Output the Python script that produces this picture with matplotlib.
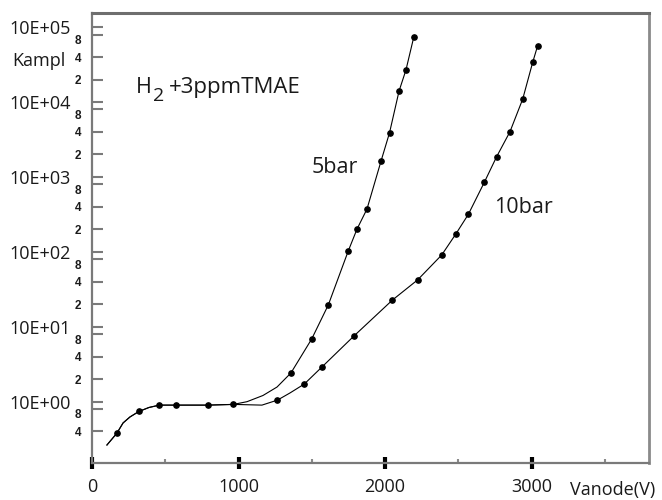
import matplotlib
matplotlib.use("Agg")
import matplotlib.pyplot as plt
from matplotlib.ticker import FixedLocator, FixedFormatter
from matplotlib.transforms import ScaledTranslation

# ---- data ----
x_common = [170, 320, 460, 575, 790, 965]
y_common = [0.38, 0.74, 0.90, 0.90, 0.90, 0.92]

x_5bar = [1358, 1500, 1613, 1750, 1809, 1877, 1973, 2031, 2096, 2143, 2196]
y_5bar = [2.42, 6.9, 19.6, 104, 202, 374, 1637, 3910, 14100, 26900, 73500]

x_10bar = [1266, 1449, 1573, 1788, 2051, 2222, 2387, 2483, 2569, 2678, 2762,
           2853, 2940, 3008, 3042]
y_10bar = [1.05, 1.72, 2.95, 7.54, 22.8, 42.2, 91, 173, 318, 851, 1870,
           4030, 11000, 34000, 56800]

# extra vertices of the drawn curves (no marker there)
bend_common_x = [102, 212, 259, 389]
bend_common_y = [0.264, 0.52, 0.625, 0.837]
bend_5bar_x = [1058, 1167, 1263]
bend_5bar_y = [1.0, 1.21, 1.57]
bend_10bar_x = [1160, 1352]
bend_10bar_y = [0.90, 1.31]

x_ticks = [0, 1000, 2000, 3000]
x_ticklabels = ["0", "1000", "2000", "3000"]
x_minor = [500, 1500, 2500, 3500]
y_major = [1, 10, 100, 1000, 10000, 100000]
y_major_labels = ["10E+00", "10E+01", "10E+02", "10E+03", "10E+04", "10E+05"]
y_minor = [0.4, 0.8, 2, 4, 8, 20, 40, 80, 200, 400, 800, 2000, 4000, 8000,
           20000, 40000, 80000]
y_minor_labels = ["4", "8", "2", "4", "8", "2", "4", "8", "2", "4", "8",
                  "2", "4", "8", "2", "4", "8"]

FONT = "Open Sans"
TXT = "#1a1a1a"

W, H = 662, 500
fig = plt.figure(figsize=(W / 100, H / 100), dpi=100)
L, R, T, B = 92, 649, 13, 463
ax = fig.add_axes([L / W, 1 - B / H, (R - L) / W, (B - T) / H])
ax.set_yscale("log")


def curve(xs, ys, bx, by):
    pts = sorted(zip(list(xs) + list(bx), list(ys) + list(by)))
    return [p[0] for p in pts], [p[1] for p in pts]


cx5, cy5 = curve(x_common + x_5bar, y_common + y_5bar,
                 bend_common_x + bend_5bar_x, bend_common_y + bend_5bar_y)
cx10, cy10 = curve(x_common + x_10bar, y_common + y_10bar,
                   bend_common_x + bend_10bar_x, bend_common_y + bend_10bar_y)

ax.plot(cx5, cy5, color="black", lw=0.8)
ax.plot(cx10, cy10, color="black", lw=0.8)
for xs, ys in [(x_common, y_common), (x_5bar, y_5bar), (x_10bar, y_10bar)]:
    ax.plot(xs, ys, "o", color="black", ms=3.8, lw=0)

ax.set_xlim(0, 3802)
ax.set_ylim(0.1518, 155100)

# spines
for s in ["left", "bottom"]:
    ax.spines[s].set_color("#7a7a7a")
    ax.spines[s].set_linewidth(1.6)
ax.spines["top"].set_color("#6e6e6e")
ax.spines["top"].set_linewidth(2.2)
ax.spines["right"].set_color("#8a8a8a")
ax.spines["right"].set_linewidth(2.0)

# x ticks
ax.xaxis.set_major_locator(FixedLocator(x_ticks))
ax.xaxis.set_major_formatter(FixedFormatter(x_ticklabels))
ax.xaxis.set_minor_locator(FixedLocator(x_minor))
ax.tick_params(axis="x", which="major", direction="inout", length=9, width=3,
               color="black", pad=6, labelsize=13, labelcolor=TXT)
ax.tick_params(axis="x", which="minor", direction="in", length=3, width=1.5,
               color="#8a8a8a")
for t in ax.get_xticklabels():
    t.set_fontfamily(FONT)

# y ticks
ax.yaxis.set_major_locator(FixedLocator(y_major))
ax.yaxis.set_major_formatter(FixedFormatter(y_major_labels))
ax.yaxis.set_minor_locator(FixedLocator(y_minor))
ax.yaxis.set_minor_formatter(FixedFormatter(y_minor_labels))
ax.tick_params(axis="y", which="major", direction="in", length=8, width=1.5,
               color="#7a7a7a", pad=15, labelsize=13, labelcolor=TXT)
ax.tick_params(axis="y", which="minor", direction="in", length=8, width=1.5,
               color="#7a7a7a", pad=8, labelsize=8.5, labelcolor=TXT)
for t in ax.get_yticklabels():
    t.set_fontfamily(FONT)
shift = ScaledTranslation(0, -5 / 100, fig.dpi_scale_trans)
for tick in ax.yaxis.get_minor_ticks():
    lab = tick.label1
    lab.set_fontfamily("Liberation Sans")
    lab.set_fontweight("bold")
    if lab.get_text() == "8":
        lab.set_transform(lab.get_transform() + shift)

# texts


def px(x, y):
    return x / W, 1 - y / H


fig.text(*px(12, 61), "Kampl", fontsize=13, family=FONT, color=TXT,
         ha="left", va="center")
fig.text(*px(136, 93), "H", fontsize=15.5, family=FONT, color=TXT,
         ha="left", va="baseline")
fig.text(*px(153, 101), "2", fontsize=14, family=FONT, color=TXT,
         ha="left", va="baseline")
fig.text(*px(169, 93), "+3ppmTMAE", fontsize=16, family=FONT, color=TXT,
         ha="left", va="baseline")
fig.text(*px(312, 167), "5bar", fontsize=15.5, family=FONT, color=TXT,
         ha="left", va="center")
fig.text(*px(494, 208), "10bar", fontsize=15.5, family=FONT, color=TXT,
         ha="left", va="center")
fig.text(*px(570, 490), "Vanode(V)", fontsize=13, family=FONT, color=TXT,
         ha="left", va="center")

fig.savefig("out.png", dpi=100)
